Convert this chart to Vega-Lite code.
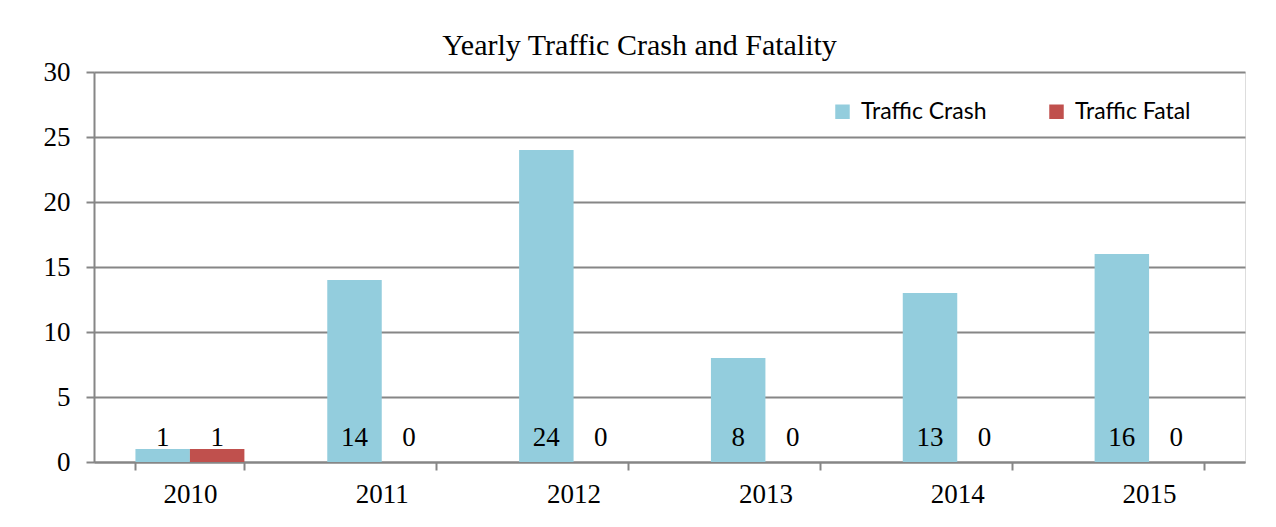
{
  "$schema": "https://vega.github.io/schema/vega-lite/v6.json",
  "autosize": "none",
  "width": 1151,
  "height": 390,
  "padding": {"left": 94, "top": 72, "right": 31, "bottom": 65},
  "background": "white",
  "title": {
    "text": "Yearly Traffic Crash and Fatality",
    "font": "Liberation Serif",
    "fontSize": 30,
    "fontWeight": "normal",
    "color": "black",
    "anchor": "middle",
    "dx": -30,
    "offset": -3
  },
  "data": {
    "values": [
      {"year": "2010", "series": "Traffic Crash", "value": 1},
      {"year": "2010", "series": "Traffic Fatal", "value": 1},
      {"year": "2011", "series": "Traffic Crash", "value": 14},
      {"year": "2011", "series": "Traffic Fatal", "value": 0},
      {"year": "2012", "series": "Traffic Crash", "value": 24},
      {"year": "2012", "series": "Traffic Fatal", "value": 0},
      {"year": "2013", "series": "Traffic Crash", "value": 8},
      {"year": "2013", "series": "Traffic Fatal", "value": 0},
      {"year": "2014", "series": "Traffic Crash", "value": 13},
      {"year": "2014", "series": "Traffic Fatal", "value": 0},
      {"year": "2015", "series": "Traffic Crash", "value": 16},
      {"year": "2015", "series": "Traffic Fatal", "value": 0}
    ]
  },
  "encoding": {
    "x": {
      "field": "year",
      "type": "nominal",
      "scale": {"paddingInner": 0.432, "paddingOuter": 0.216},
      "axis": {
        "title": null,
        "labelAngle": 0,
        "labelFont": "Liberation Serif",
        "labelFontSize": 27,
        "labelColor": "black",
        "labelPadding": 11,
        "tickBand": "extent",
        "tickSize": 8,
        "tickColor": "#868686",
        "tickWidth": 2,
        "domainColor": "#868686",
        "domainWidth": 2,
        "grid": false
      }
    },
    "xOffset": {"field": "series", "type": "nominal", "scale": {"paddingInner": 0, "paddingOuter": 0}},
    "color": {
      "field": "series",
      "type": "nominal",
      "scale": {"domain": ["Traffic Crash", "Traffic Fatal"], "range": ["#93CDDD", "#C0504D"]},
      "legend": {
        "title": null,
        "orient": "none",
        "legendX": 737,
        "legendY": 28,
        "direction": "horizontal",
        "symbolType": "square",
        "symbolSize": 210,
        "symbolStrokeWidth": 0,
        "labelFont": "Lato",
        "labelFontSize": 23,
        "labelColor": "black",
        "labelOffset": 7,
        "columnPadding": 58
      }
    }
  },
  "layer": [
    {
      "mark": {"type": "bar"},
      "encoding": {
        "y": {
          "field": "value",
          "type": "quantitative",
          "scale": {"domain": [0, 30]},
          "axis": {
            "title": null,
            "values": [0, 5, 10, 15, 20, 25, 30],
            "labelFont": "Liberation Serif",
            "labelFontSize": 27,
            "labelColor": "black",
            "labelPadding": 16,
            "tickSize": 8,
            "tickColor": "#868686",
            "tickWidth": 2,
            "domainColor": "#868686",
            "domainWidth": 2,
            "gridColor": "#868686",
            "gridWidth": 2
          }
        }
      }
    },
    {
      "mark": {"type": "text", "font": "Liberation Serif", "fontSize": 27, "color": "black", "baseline": "alphabetic", "dy": -16},
      "encoding": {
        "y": {"datum": 0, "type": "quantitative"},
        "text": {"field": "value", "type": "quantitative"},
        "color": {"value": "black"}
      }
    }
  ]
}
